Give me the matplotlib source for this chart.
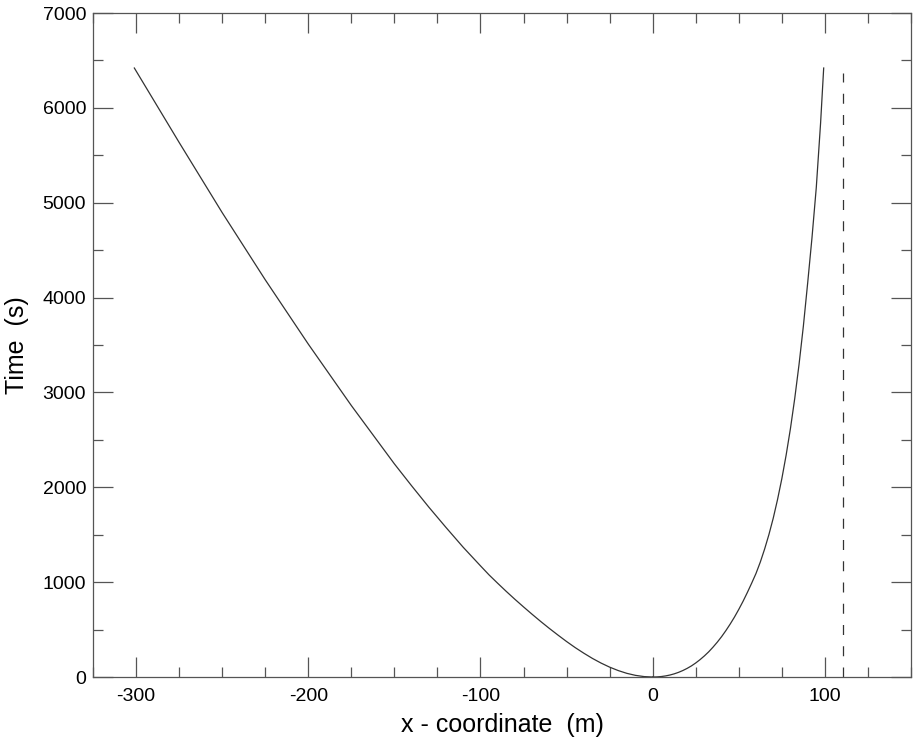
import matplotlib
matplotlib.use("Agg")
from matplotlib import pyplot as plt
from matplotlib.ticker import MultipleLocator

plt.rcParams['font.family'] = ['Liberation Sans', 'DejaVu Sans']
plt.rcParams['axes.unicode_minus'] = False

# left branch (x in m, time in s)
left_x = [0, -5, -10, -15, -20, -25, -30, -35, -40, -45, -50, -55, -60, -65, -70, -75, -80, -85, -90, -95,
          -100, -110, -120, -130, -140, -150, -175, -200, -225, -250, -275, -301]
left_t = [0, 4.4, 17.3, 38.5, 67.8, 104, 147, 196, 251, 310, 374, 442, 512, 585, 661, 739, 819, 902, 988, 1076,
          1172, 1367, 1576, 1791, 2016, 2247, 2862, 3510, 4188, 4896, 5636, 6420]

# right branch
right_x = [0, 2.5, 5, 7.5, 10, 12.5, 15, 17.5, 20, 22.5, 25, 27.5, 30, 32.5, 35, 37.5, 40, 42.5, 45, 47.5,
           50, 52.5, 55, 57.5, 60, 62.5, 65, 67.5, 70, 72.5, 75, 77.5, 80, 82.5, 85, 87.5, 90, 92.5, 95, 97.5, 99.3]
right_t = [0, 1.2, 4.9, 11.4, 20.8, 33.2, 48.9, 68.1, 90.8, 117, 148, 183, 222, 265, 314, 367, 425, 489, 558, 632,
           713, 799, 892, 990, 1092, 1212, 1349, 1502, 1674, 1871, 2091, 2340, 2620, 2938, 3297, 3699, 4154, 4630, 5160, 5840, 6420]

# dashed marker line
dash_x = 110.5
dash_t = [0, 6370]

fig = plt.figure(figsize=(9.14, 7.47), dpi=100)
ax = fig.add_axes([93/914, 1-677/747, (911-93)/914, (677-13)/747])

ax.plot(left_x, left_t, color='#333333', lw=0.9)
ax.plot(right_x, right_t, color='#333333', lw=0.9)
ax.plot([dash_x, dash_x], dash_t, color='#333333', lw=0.9, ls=(0, (8, 9)))

ax.set_xlim(-325, 150)
ax.set_ylim(0, 7000)
ax.xaxis.set_major_locator(MultipleLocator(100))
ax.xaxis.set_minor_locator(MultipleLocator(25))
ax.yaxis.set_major_locator(MultipleLocator(1000))
ax.yaxis.set_minor_locator(MultipleLocator(500))

ax.tick_params(which='both', direction='in', top=True, right=True, color='#555555', width=0.9)
ax.tick_params(which='major', length=14.4, labelsize=14)
ax.tick_params(axis='x', which='major', pad=8)
ax.tick_params(axis='y', which='major', pad=5)
ax.tick_params(which='minor', length=7.2)
for s in ax.spines.values():
    s.set_color('#555555')
    s.set_linewidth(0.9)

ax.set_xlabel('x - coordinate  (m)', fontsize=18, labelpad=6)
ax.set_ylabel('Time  (s)', fontsize=18, labelpad=10)

fig.savefig('out.png', dpi=100)
